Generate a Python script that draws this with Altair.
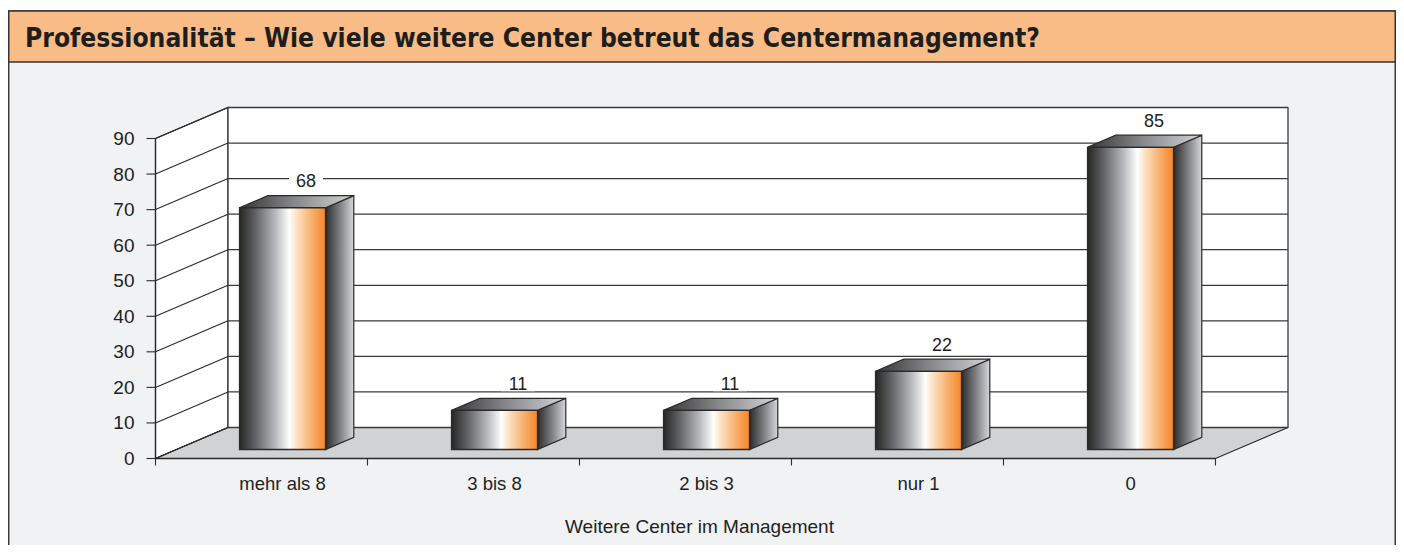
import altair as alt
import pandas as pd

# ---------------- data ----------------
categories = ["mehr als 8", "3 bis 8", "2 bis 3", "nur 1", "0"]
values = [68, 11, 11, 22, 85]
y_ticks = [0, 10, 20, 30, 40, 50, 60, 70, 80, 90]
title_text = "Professionalität – Wie viele weitere Center betreut das Centermanagement?"
x_title = "Weitere Center im Management"

# ---------------- layout (pixels) ----------------
W, H = 1388, 537
OX, OY = 147.5, 450.5          # front-left corner of the floor (value 0) in view pixels
CAT_PX = 212.0                 # width of a category on the front plane
PX_PER_UNIT = 320.0 / 90.0     # vertical pixels per value unit
DEPTH_X, DEPTH_Y = 72.5, 31.0  # 3D depth offset of the back wall
BAR_FRONT, BAR_BACK = 0.29, 0.68
BAR_HALF_PX = 43.0

x_dom = [-OX / CAT_PX, (W - OX) / CAT_PX]
y_dom = [(OY - H) / PX_PER_UNIT, OY / PX_PER_UNIT]
DXu = DEPTH_X / CAT_PX
DYu = DEPTH_Y / PX_PER_UNIT
YMAX = y_ticks[-1]
n = len(categories)

xs = alt.Scale(domain=x_dom, nice=False, zero=False)
ys = alt.Scale(domain=y_dom, nice=False, zero=False)


def X(f="x"):
    return alt.X(f"{f}:Q", scale=xs, axis=None)


def Y(f="y"):
    return alt.Y(f"{f}:Q", scale=ys, axis=None, stack=None)


def grad(stops):
    return alt.Gradient(
        gradient="linear", x1=0, x2=1, y1=0, y2=0,
        stops=[alt.GradientStop(offset=o, color=c) for o, c in stops],
    )


front_grad = grad([(0, "#262626"), (0.18, "#5f6063"), (0.42, "#b9babd"),
                   (0.58, "#ffffff"), (0.66, "#fde3c8"), (0.85, "#f8ad68"),
                   (1, "#f4862a")])
side_grad = grad([(0, "#2b2b2b"), (0.5, "#7d7e82"), (1, "#d6d7d9")])
top_grad = grad([(0, "#353535"), (0.5, "#8a8b8e"), (1, "#d2d3d5")])

EDGE = "#2a2a2a"
one = pd.DataFrame({"a": [0]})

# ---------------- frame ----------------
panel = alt.Chart(one).mark_rect(fill="#f1f2f4", stroke="#3c3c3c", strokeWidth=1.5).encode(
    x=alt.value(0.75), x2=alt.value(W - 0.75), y=alt.value(3), y2=alt.value(600))
banner = alt.Chart(one).mark_rect(fill="#f9bc87", stroke="#333333", strokeWidth=1.5).encode(
    x=alt.value(0.75), x2=alt.value(W - 0.75), y=alt.value(3), y2=alt.value(54))
title = alt.Chart(one).mark_text(
    text=title_text, align="left", baseline="alphabetic", fontSize=26.2, fontWeight="bold",
    font="Liberation Sans Narrow, DejaVu Sans Condensed, sans-serif", color="#1e1e1e",
).encode(x=alt.value(17), y=alt.value(39))

# ---------------- 3D walls ----------------
left_wall = alt.Chart(pd.DataFrame({
    "x": [0, DXu], "y": [YMAX, YMAX + DYu], "y2": [0, DYu]})
).mark_area(fill="white", stroke=EDGE, strokeWidth=1.2).encode(x=X(), y=Y(), y2="y2:Q")

back_wall = alt.Chart(pd.DataFrame({
    "x": [DXu], "x2": [n + DXu], "y": [DYu], "y2": [YMAX + DYu]})
).mark_rect(fill="white", stroke=EDGE, strokeWidth=1.2).encode(x=X(), x2="x2:Q", y=Y(), y2="y2:Q")

floor = alt.Chart(pd.DataFrame({
    "x": [0, DXu, n, n + DXu], "y": [0, DYu, DYu, DYu], "y2": [0, 0, 0, DYu]})
).mark_area(fill="#d1d2d4", stroke=EDGE, strokeWidth=1.2).encode(x=X(), y=Y(), y2="y2:Q")

grid_df = pd.DataFrame({"v": y_ticks})
grid_df["x"] = DXu
grid_df["x2"] = n + DXu
grid_df["yb"] = grid_df["v"] + DYu
grid_df["x0"] = 0.0
grid_df["tk"] = -9.0 / CAT_PX

back_grid = alt.Chart(grid_df).mark_rule(color="#3a3a3a", strokeWidth=1.3).encode(
    x=X(), x2="x2:Q", y=Y("yb"))
diag = alt.Chart(grid_df).mark_rule(color="#2a2a2a", strokeWidth=1.1).encode(
    x=X("x0"), x2="x:Q", y=Y("v"), y2="yb:Q")
y_ticks_m = alt.Chart(grid_df).mark_rule(color="#2a2a2a", strokeWidth=1.1).encode(
    x=X("tk"), x2="x0:Q", y=Y("v"))
y_labels = alt.Chart(grid_df).mark_text(
    align="right", baseline="alphabetic", dx=-21, dy=6.5, fontSize=19,
    font="Liberation Sans", color="#222222").encode(x=X("x0"), y=Y("v"), text="v:Q")

axis_line = alt.Chart(pd.DataFrame({"x": [0], "y": [0], "y2": [YMAX]})).mark_rule(
    color="#2a2a2a", strokeWidth=1.3).encode(x=X(), y=Y(), y2="y2:Q")
front_edge = alt.Chart(pd.DataFrame({"x": [0], "x2": [n], "y": [0]})).mark_rule(
    color="#2a2a2a", strokeWidth=1.6).encode(x=X(), x2="x2:Q", y=Y())

cat_ticks_df = pd.DataFrame({"x": list(range(n + 1))})
cat_ticks_df["y"] = 0.0
cat_ticks_df["y2"] = -7.0 / PX_PER_UNIT
cat_ticks = alt.Chart(cat_ticks_df).mark_rule(color="#2a2a2a", strokeWidth=1.1).encode(
    x=X(), y=Y(), y2="y2:Q")

# ---------------- bars ----------------
bars = pd.DataFrame({"cat": categories, "val": values, "i": range(n)})
bars["cx"] = bars["i"] + 0.5 + BAR_FRONT * DXu
hw = BAR_HALF_PX / CAT_PX
bars["xl"] = bars["cx"] - hw
bars["xr"] = bars["cx"] + hw
bars["yb"] = BAR_FRONT * DYu
bars["yt"] = bars["val"] + bars["yb"]
ddx = (BAR_BACK - BAR_FRONT) * DXu
ddy = (BAR_BACK - BAR_FRONT) * DYu
bars["ylab"] = bars["yt"] + ddy
bars["ybase"] = 0.0

side_rows, top_rows = [], []
for r in bars.itertuples():
    side_rows += [
        {"cat": r.cat, "x": r.xr, "y": r.yt, "y2": r.yb},
        {"cat": r.cat, "x": r.xr + ddx, "y": r.yt + ddy, "y2": r.yb + ddy},
    ]
    top_rows += [
        {"cat": r.cat, "x": r.xl, "y": r.yt, "y2": r.yt},
        {"cat": r.cat, "x": r.xl + ddx, "y": r.yt + ddy, "y2": r.yt},
        {"cat": r.cat, "x": r.xr, "y": r.yt + ddy, "y2": r.yt},
        {"cat": r.cat, "x": r.xr + ddx, "y": r.yt + ddy, "y2": r.yt + ddy},
    ]

side = alt.Chart(pd.DataFrame(side_rows)).mark_area(
    fill=side_grad, stroke=EDGE, strokeWidth=1.2).encode(
    x=X(), y=Y(), y2="y2:Q", detail="cat:N")
top = alt.Chart(pd.DataFrame(top_rows)).mark_area(
    fill=top_grad, stroke=EDGE, strokeWidth=1.2).encode(
    x=X(), y=Y(), y2="y2:Q", detail="cat:N")
front = alt.Chart(bars).mark_rect(fill=front_grad, stroke=EDGE, strokeWidth=1.3).encode(
    x=X("xl"), x2="xr:Q", y=Y("yb"), y2="yt:Q")

label_bg = alt.Chart(bars).mark_point(
    shape="M-1,-0.5H1V0.5H-1Z", size=1156, filled=True, fill="white", opacity=1,
    strokeWidth=0, xOffset=23.5, yOffset=-15.5).encode(x=X("cx"), y=Y("ylab"))
labels = alt.Chart(bars).mark_text(
    align="center", baseline="alphabetic", dx=23.5, dy=-8.5, fontSize=18,
    font="Liberation Sans", color="#222222").encode(x=X("cx"), y=Y("ylab"), text="val:Q")

cat_labels = alt.Chart(bars).mark_text(
    align="center", baseline="alphabetic", dy=31.5, fontSize=18.5,
    font="Liberation Sans", color="#222222").encode(x=X("cx"), y=Y("ybase"), text="cat:N")

axis_title = alt.Chart(pd.DataFrame({"x": [n / 2], "y": [0]})).mark_text(
    text=x_title, align="center", baseline="middle", dx=14, dy=68.5, fontSize=19,
    font="Liberation Sans", color="#222222").encode(x=X(), y=Y())

chart = alt.layer(
    panel, banner, title,
    left_wall, back_wall, floor,
    back_grid, diag, axis_line, front_edge, y_ticks_m, cat_ticks,
    y_labels, cat_labels, axis_title,
    label_bg, labels,
    side, top, front,
).properties(
    width=W, height=H, padding=0,
    autosize=alt.AutoSizeParams(type="none"),
    background="white",
).configure_view(stroke=None)

chart.save("out.html", embed_options={"renderer": "svg", "actions": False})
